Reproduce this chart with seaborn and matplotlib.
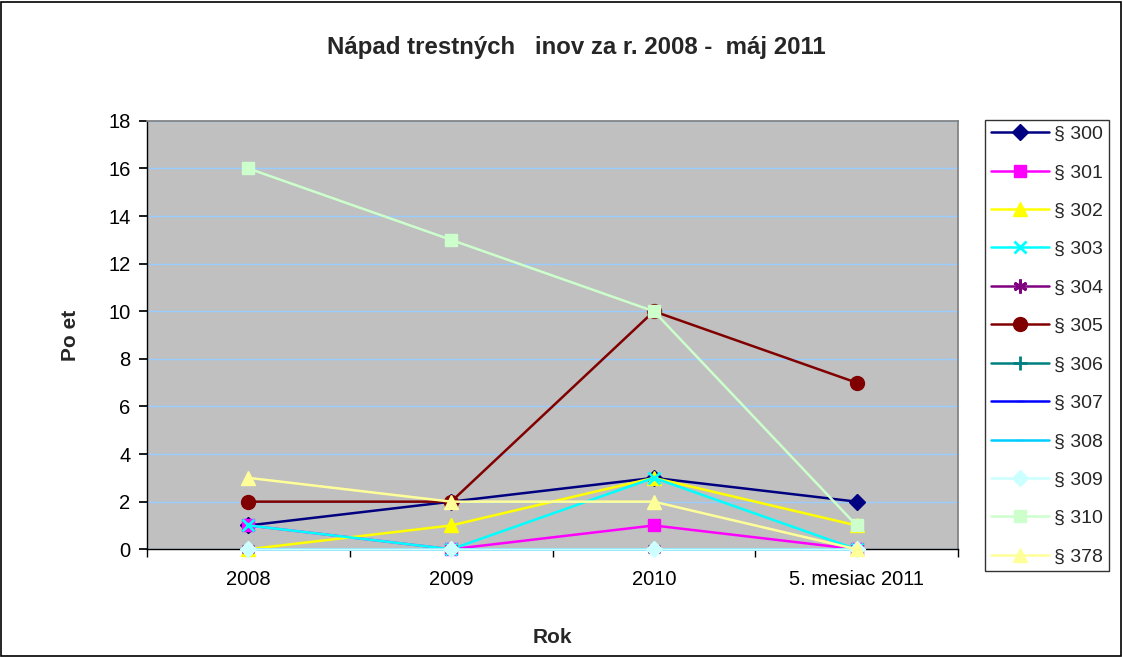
import matplotlib
matplotlib.use("Agg")
import matplotlib.pyplot as plt
import seaborn as sns
import pandas as pd
from matplotlib.patches import Rectangle

categories = ["2008", "2009", "2010", "5. mesiac 2011"]
series_names = ["§ 300", "§ 301", "§ 302", "§ 303", "§ 304", "§ 305",
                "§ 306", "§ 307", "§ 308", "§ 309", "§ 310", "§ 378"]
s300 = [1, 2, 3, 2]
s301 = [1, 0, 1, 0]
s302 = [0, 1, 3, 1]
s303 = [1, 0, 3, 0]
s304 = [0, 0, 0, 0]
s305 = [2, 2, 10, 7]
s306 = [0, 0, 0, 0]
s307 = [0, 0, 0, 0]
s308 = [0, 0, 0, 0]
s309 = [0, 0, 0, 0]
s310 = [16, 13, 10, 1]
s378 = [3, 2, 2, 0]
values = [s300, s301, s302, s303, s304, s305, s306, s307, s308, s309, s310, s378]

colors = ["#000080", "#FF00FF", "#FFFF00", "#00FFFF", "#800080", "#800000",
          "#008080", "#0000FF", "#00CCFF", "#CCFFFF", "#CCFFCC", "#FFFF99"]
markers = ["D", "s", "^", "x", (6, 2, 0), "o", "+", "_", "_", "D", "s", "^"]
msizes = [8, 8.5, 10, 9, 10, 10, 10, 6, 6, 8, 8.5, 10]

rows = []
for name, vals in zip(series_names, values):
    for i, v in enumerate(vals):
        rows.append({"series": name, "idx": i, "cat": categories[i], "value": v})
df = pd.DataFrame(rows)

sns.set_theme(style="white")
plt.rcParams["font.family"] = ["Liberation Sans", "DejaVu Sans"]

fig = plt.figure(figsize=(11.23, 6.57), dpi=100)
fig.patch.set_facecolor("white")
fig.add_artist(Rectangle((0.001, 0.001), 0.997, 0.996, transform=fig.transFigure,
                         fill=False, edgecolor="black", linewidth=1.2))
ax = fig.add_axes([0.131, 0.164, 0.722, 0.652])
ax.set_facecolor("#C0C0C0")

for k, name in enumerate(series_names):
    sub = df[df["series"] == name]
    sns.lineplot(data=sub, x="idx", y="value", ax=ax, color=colors[k],
                 marker=markers[k], markersize=msizes[k], linewidth=1.8,
                 markeredgecolor=colors[k],
                 markeredgewidth=2 if markers[k] in ("x", "+", (6, 2, 0)) else 1,
                 label=name, legend=False, clip_on=False, zorder=3 + k)

ax.set_xlim(-0.5, 3.5)
ax.set_ylim(0, 18)
ax.set_yticks(range(0, 19, 2))
ax.set_xticks([0, 1, 2, 3])
ax.set_xticklabels(categories)
ax.yaxis.grid(True, color="#99CCFF", linewidth=1)
ax.xaxis.grid(False)
ax.set_axisbelow(True)
for s in ["top", "right"]:
    ax.spines[s].set_color("#808080")
for s in ["left", "bottom"]:
    ax.spines[s].set_color("black")
    ax.spines[s].set_linewidth(1)
ax.tick_params(axis="both", labelsize=14.5, colors="black", length=6, direction="out",
               left=True, bottom=False)
ax.tick_params(axis="y", pad=6)
ax.set_xticks([-0.5, 0.5, 1.5, 2.5, 3.5], minor=True)
ax.tick_params(axis="x", which="minor", length=6, bottom=True, color="black")
ax.tick_params(axis="x", which="major", pad=9)

ax.set_xlabel("Rok", fontsize=15, fontweight="bold", labelpad=28)
ax.set_ylabel("Po et", fontsize=15, fontweight="bold", labelpad=20)
fig.text(0.513, 0.928, "Nápad trestných   inov za r. 2008 -  máj 2011", ha="center",
         va="center", fontsize=17.3, fontweight="bold")

h, l = ax.get_legend_handles_labels()
leg = fig.legend(h, l, loc="upper left", bbox_to_anchor=(0.877, 0.818),
                 frameon=True, fancybox=False, edgecolor="black", fontsize=14,
                 labelspacing=1.07, handlelength=3.0, handletextpad=0.25,
                 borderpad=0.3, borderaxespad=0)
leg.get_frame().set_linewidth(1)

fig.savefig("out.png", dpi=100)
